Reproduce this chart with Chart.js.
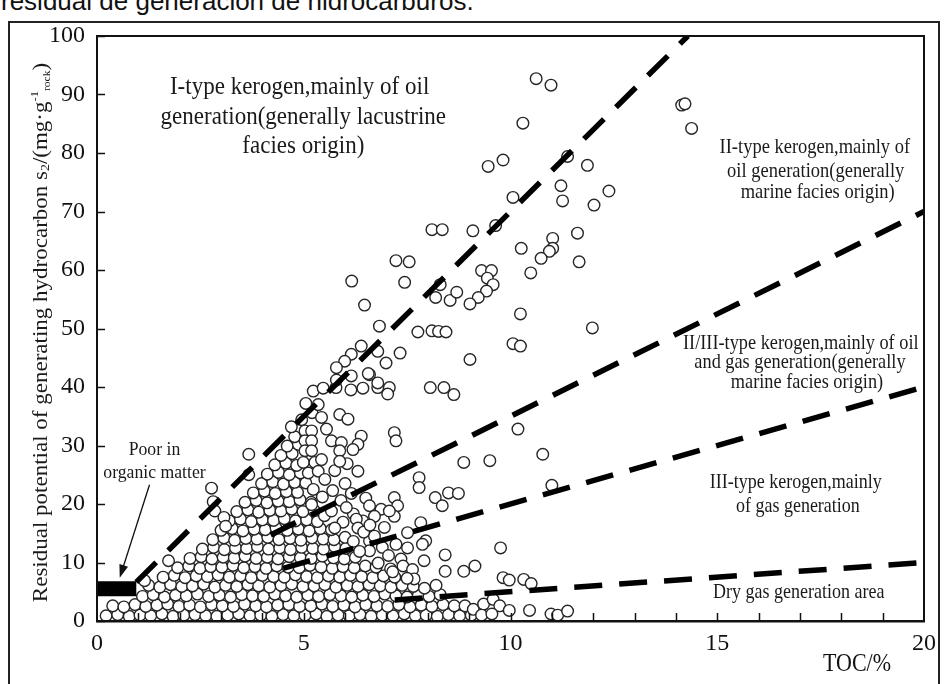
<!DOCTYPE html>
<html>
<head>
<meta charset="utf-8">
<title>S2 vs TOC kerogen type diagram</title>
<script src="https://cdn.jsdelivr.net/npm/chart.js@4.4.1/dist/chart.umd.min.js"></script>
<style>
  html, body { margin: 0; padding: 0; background: #fff; }
  body { width: 944px; height: 684px; position: relative; overflow: hidden; }
  #caption { position: absolute; left: 1px; top: -12px; font: 26px "Liberation Sans", Arial, sans-serif; line-height: 26px; color: #111; white-space: nowrap; }
  #frame { position: absolute; left: 8px; top: 21px; width: 928px; height: 700px; border: 2px solid #222; }
  #chart { position: absolute; left: 0; top: 0; }
</style>
</head>
<body>
<div id="caption">residual de generación de hidrocarburos.</div>
<div id="frame"></div>
<canvas id="chart" width="944" height="684"></canvas>
<script>
/* ─── Data: TOC (%) vs S2 (mg/g rock) ─── */
const xTickLabels = [0, 5, 10, 15, 20];
const xMinorTicks = [1, 2, 3, 4, 5, 6, 7, 8, 9, 10, 11, 12, 13, 14, 15, 16, 17, 18, 19];
const yTicks = [0, 10, 20, 30, 40, 50, 60, 70, 80, 90, 100];

// dense packed samples, lower part of the cluster
const clusterLow = [
  [0.22,0.9],[0.5,1.1],[0.78,0.8],[1.04,1.0],[1.3,0.9],[1.57,1.2],[1.84,0.8],[2.1,1.0],[2.37,1.1],[2.63,0.9],[2.9,0.8],[3.16,1.0],[3.43,1.2],[3.7,0.9],[3.96,1.0],[4.23,0.8],[4.5,1.1],[4.76,0.9],[5.03,1.0],[5.3,1.2],[5.56,0.8],[5.83,1.0],[6.1,0.9],[6.36,1.1],[6.63,0.8],[6.9,1.0],[7.16,0.9],[7.43,1.2],[7.7,0.9],[7.96,1.0],[8.23,0.8],[8.5,1.1],[8.77,0.9],[9.05,1.0],
  [0.38,2.6],[0.65,2.4],[0.92,2.8],[1.18,2.5],[1.45,2.7],[1.71,2.9],[1.98,2.5],[2.24,2.7],[2.5,2.4],[2.77,2.8],[3.03,2.6],[3.3,2.5],[3.57,2.9],[3.84,2.6],[4.1,2.4],[4.37,2.7],[4.64,2.8],[4.9,2.5],[5.17,2.6],[5.44,2.9],[5.7,2.5],[5.97,2.7],[6.24,2.4],[6.5,2.8],[6.77,2.6],[7.03,2.5],[7.3,2.8],[7.57,2.4],[7.84,2.7],[8.1,2.5],[8.37,2.8],[8.64,2.6],
  [1.1,4.2],[1.36,4.5],[1.63,4.1],[1.9,4.4],[2.16,4.3],[2.43,4.6],[2.7,4.2],[2.96,4.4],[3.23,4.1],[3.5,4.5],[3.76,4.3],[4.03,4.2],[4.3,4.6],[4.56,4.3],[4.83,4.1],[5.1,4.4],[5.36,4.2],[5.63,4.5],[5.9,4.3],[6.16,4.1],[6.43,4.4],[6.7,4.2],[6.96,4.6],[7.23,4.3],[7.5,4.1],[7.77,4.4],[8.03,4.2],[8.3,4.5],
  [1.25,6.1],[1.52,5.8],[1.78,6.2],[2.05,5.9],[2.31,6.0],[2.58,6.3],[2.85,5.8],[3.11,6.1],[3.38,5.9],[3.65,6.2],[3.91,6.0],[4.18,5.8],[4.45,6.1],[4.71,6.3],[4.98,5.9],[5.25,6.0],[5.51,6.2],[5.78,5.8],[6.05,6.1],[6.31,5.9],[6.58,6.2],[6.85,6.0],[7.11,5.8],[7.38,6.1],[7.65,5.9],
  [1.6,7.5],[1.87,7.8],[2.13,7.4],[2.4,7.7],[2.67,7.6],[2.93,7.9],[3.2,7.5],[3.47,7.7],[3.73,7.4],[4.0,7.8],[4.27,7.6],[4.53,7.5],[4.8,7.9],[5.07,7.6],[5.33,7.4],[5.6,7.7],[5.87,7.5],[6.13,7.8],[6.4,7.6],[6.67,7.4],[6.93,7.7],[7.2,7.5]
];

// dense packed samples, upper part of the cluster
const clusterMid = [
  [1.95,9.1],[2.22,9.4],[2.49,9.0],[2.75,9.3],[3.02,9.2],[3.29,9.5],[3.55,9.1],[3.82,9.3],[4.09,9.0],[4.35,9.4],[4.62,9.2],[4.89,9.1],[5.15,9.5],[5.42,9.2],[5.69,9.0],[5.95,9.3],[6.22,9.1],[6.49,9.4],[6.75,9.2],
  [2.25,10.7],[2.52,11.0],[2.78,10.6],[3.05,10.9],[3.32,10.8],[3.58,11.1],[3.85,10.7],[4.12,10.9],[4.38,10.6],[4.65,11.0],[4.92,10.8],[5.18,10.7],[5.45,11.1],[5.72,10.8],[5.98,10.6],[6.25,10.9],
  [2.55,12.3],[2.82,12.6],[3.08,12.2],[3.35,12.5],[3.62,12.4],[3.88,12.7],[4.15,12.3],[4.42,12.5],[4.68,12.2],[4.95,12.6],[5.22,12.4],[5.48,12.3],[5.75,12.7],[6.02,12.4],
  [2.8,13.9],[3.07,14.2],[3.33,13.8],[3.6,14.1],[3.87,14.0],[4.13,14.3],[4.4,13.9],[4.67,14.1],[4.93,13.8],[5.2,14.2],[5.47,14.0],[5.73,13.9],[6.0,14.3],
  [3.0,15.5],[3.27,15.8],[3.53,15.4],[3.8,15.7],[4.07,15.6],[4.33,15.9],[4.6,15.5],[4.87,15.7],[5.13,15.4],[5.4,15.8],[5.67,15.6],
  [3.2,17.1],[3.47,17.4],[3.73,17.0],[4.0,17.3],[4.27,17.2],[4.53,17.5],[4.8,17.1],[5.07,17.3],[5.33,17.0],
  [3.38,18.7],[3.65,19.0],[3.91,18.6],[4.18,18.9],[4.45,18.8],[4.71,19.1],[4.98,18.7],[5.25,18.9],
  [3.58,20.3],[3.85,20.6],[4.11,20.2],[4.38,20.5],[4.65,20.4],[4.91,20.7],[5.18,20.3],
  [3.78,21.9],[4.05,22.2],[4.31,21.8],[4.58,22.1],[4.85,22.0],
  [3.98,23.5],[4.25,23.8],[4.51,23.4],[4.78,23.7],[5.05,23.6],
  [4.12,25.1],[4.39,25.4],[4.65,25.0],[4.92,25.3],
  [4.3,26.7],[4.57,27.0],[4.83,26.6],
  [4.45,28.3],[4.72,28.6],[4.6,29.9],[4.87,30.2],[4.78,31.5]
];

// looser samples around the cluster edges
const scatterMid = [
  [1.15,6.9],[1.73,10.3],[2.77,22.7],[2.81,20.4],[2.85,18.8],[3.07,17.7],[3.11,16.2],[3.67,28.5],[3.67,25.0],
  [4.7,33.2],[4.95,34.4],[5.2,35.6],[5.05,37.2],[5.35,37.0],
  [5.43,34.8],[5.87,35.3],[6.07,34.5],[5.55,32.8],[5.67,30.8],[5.91,30.5],[5.87,29.1],[5.03,32.5],[5.19,32.5],[5.03,30.8],[5.19,30.8],[5.03,29.1],[5.19,29.1],[4.99,27.1],[5.27,27.1],[5.43,27.6],[5.11,25.3],[5.35,25.6],[5.51,24.2],[5.23,22.5],[5.19,19.9],
  [5.95,16.9],[6.2,18.3],[5.9,20.6],[6.15,21.8],[5.7,22.3],[6.5,21.0],[6.0,23.5],[5.75,25.7],[6.05,26.9],[5.45,21.2],[5.5,18.0],
  [6.39,31.6],[6.31,30.2],[6.19,29.3],[7.19,32.2],[7.23,30.8],[6.31,25.6],[5.87,27.3],
  [7.79,24.5],[7.79,22.8],[8.87,27.1],[9.5,27.4],[8.18,21.1],[8.5,21.9],[8.74,21.8],[8.35,19.7],[7.19,21.1],[7.27,19.7],[7.19,17.9],
  [6.59,19.7],[6.87,19.1],[7.07,18.8],[6.71,17.9],[6.43,17.1],[6.27,17.4],[6.03,19.4],[5.75,15.9],[6.31,15.9],[5.67,18.8],
  [7.51,15.1],[7.83,16.8],[7.95,13.7],[7.87,13.1],[7.51,12.5],[7.23,13.1],[6.59,13.7],[6.59,12.0],[6.71,14.5],
  [6.2,13.6],[6.35,11.9],[6.45,15.2],[6.9,12.6],[7.05,11.2],[6.8,9.9],[7.1,8.9],[7.35,10.6],[6.6,16.4],[6.95,16.0],[7.4,9.4],
  [7.91,10.3],[7.63,8.8],[7.15,8.4],[7.67,7.2],[7.92,5.6],[8.2,6.1],[7.5,7.3],
  [8.42,11.3],[8.42,8.5],[8.87,8.5],[9.14,9.4],[9.76,12.5],[9.82,7.4],[9.97,7.0],[10.32,7.1],[10.5,6.4],
  [8.9,2.6],[9.1,2.0],[9.35,2.9],[9.58,3.7],[9.74,2.6],[9.3,1.0],[9.55,1.2],
  [9.97,1.8],[10.46,1.8],[10.98,1.2],[11.14,1.0],[11.38,1.7],
  [10.18,32.8],[10.78,28.5],[11.0,23.2]
];

// sparse high-S2 samples
const scatterHigh = [
  [10.62,92.7],[10.98,91.6],[14.14,88.2],[14.22,88.4],[14.38,84.2],[10.3,85.1],[9.46,77.7],[9.82,78.8],[11.38,79.4],[11.86,77.9],
  [10.06,72.4],[11.22,74.4],[11.26,71.8],[12.38,73.5],[12.02,71.1],[8.1,66.9],[8.35,66.9],[9.09,66.7],[9.64,67.6],[10.26,63.7],
  [11.02,65.4],[11.02,63.7],[10.94,63.2],[10.74,62.0],[11.62,66.3],[11.66,61.4],[10.49,59.5],[7.23,61.6],[7.55,61.4],[7.44,57.9],
  [6.16,58.1],[6.47,54.0],[9.3,59.9],[9.54,59.9],[9.44,58.6],[9.58,57.5],[9.42,56.4],[9.22,55.3],[9.02,54.2],[8.3,57.5],
  [8.19,55.3],[8.54,54.8],[8.7,56.2],[10.24,52.5],[11.98,50.1],[10.06,47.4],[10.24,47.0],[9.02,44.7],[7.76,49.4],[8.1,49.6],
  [8.26,49.5],[8.44,49.4],[7.33,45.8],[6.83,50.4],[6.39,47.0],[6.79,46.1],[6.99,44.1],[6.59,42.1],[6.15,45.6],[5.99,44.4],
  [5.79,43.3],[8.06,39.9],[8.39,39.9],[8.63,38.7],[5.23,39.3],[5.47,39.8],[5.78,39.9],[6.14,39.5],[6.43,39.8],[6.79,39.9],
  [7.07,39.9],[5.79,41.2],[6.56,42.3],[6.15,41.9],[6.79,40.7],[7.03,38.8]
];

// kerogen boundaries (dashed) and the "poor in organic matter" bar
const lineI   = [[0.95, 6.65], [14.29, 100]];
const lineII  = [[4.2, 14.7], [20, 70]];
const lineIII = [[4.5, 9.0], [20, 40]];
const lineIV  = [[7.2, 3.6], [20, 10]];
const poorBar = [[0, 5.5], [0.95, 5.5]];

/* ─── Annotation text (placed in data units) ─── */
const SERIF = '"Liberation Serif", "Times New Roman", serif';
const notes = [
  { t: "I-type kerogen,mainly of oil",       x: 4.90,  y: 91.3, s: 23 },
  { t: "generation(generally lacustrine",    x: 4.99,  y: 86.2, s: 23 },
  { t: "facies origin)",                      x: 4.99,  y: 81.2, s: 23 },
  { t: "II-type kerogen,mainly of",          x: 17.36, y: 80.9, s: 18.5 },
  { t: "oil generation(generally",           x: 17.38, y: 76.8, s: 18.5 },
  { t: "marine facies origin)",              x: 17.43, y: 73.3, s: 18.5 },
  { t: "II/III-type kerogen,mainly of oil",  x: 17.02, y: 47.5, s: 18.3 },
  { t: "and gas generation(generally",       x: 17.0,  y: 44.1, s: 18.3 },
  { t: "marine facies origin)",              x: 17.17, y: 40.7, s: 18.3 },
  { t: "III-type kerogen,mainly",            x: 16.9,  y: 23.6, s: 18 },
  { t: "of gas generation",                  x: 16.95, y: 19.5, s: 18 },
  { t: "Dry gas generation area",            x: 16.97, y: 4.8,  s: 18 },
  { t: "Poor in",                             x: 1.39,  y: 29.2, s: 17.7 },
  { t: "organic matter",                      x: 1.39,  y: 25.3, s: 17.7 }
];

const toXY = arr => arr.map(([x, y]) => ({ x, y }));

function stretchText(ctx, str, px, py, size, stretch) {
  ctx.save();
  ctx.translate(px, py);
  ctx.scale(1, stretch);
  ctx.font = size + "px " + SERIF;
  ctx.textAlign = "center";
  ctx.textBaseline = "middle";
  ctx.fillText(str, 0, 0);
  ctx.restore();
}

/* ─── Frame, inward ticks, labels, arrow ─── */
const decorate = {
  id: "decorate",
  afterDraw(chart) {
    const { ctx, chartArea: a, scales: { x, y } } = chart;
    ctx.save();

    // plot box
    ctx.strokeStyle = "#111";
    ctx.lineWidth = 2;
    ctx.strokeRect(a.left, a.top, a.right - a.left, a.bottom - a.top);

    // inward tick marks
    ctx.lineWidth = 1.5;
    ctx.beginPath();
    xMinorTicks.forEach(v => {
      const px = Math.round(x.getPixelForValue(v)) + 0.5;
      ctx.moveTo(px, a.bottom);
      ctx.lineTo(px, a.bottom - 8);
    });
    yTicks.forEach(v => {
      const py = Math.round(y.getPixelForValue(v)) + 0.5;
      ctx.moveTo(a.left, py);
      ctx.lineTo(a.left + 8, py);
    });
    ctx.stroke();

    // zone notes
    ctx.fillStyle = "#1a1a1a";
    notes.forEach(n => stretchText(ctx, n.t, x.getPixelForValue(n.x), y.getPixelForValue(n.y), n.s, 1.12));

    // arrow to the poor-organic-matter bar
    const x0 = x.getPixelForValue(1.27), y0 = y.getPixelForValue(23.3);
    const x1 = x.getPixelForValue(0.55), y1 = y.getPixelForValue(7.4);
    const ang = Math.atan2(y1 - y0, x1 - x0);
    ctx.strokeStyle = "#111";
    ctx.lineWidth = 1.3;
    ctx.beginPath();
    ctx.moveTo(x0, y0);
    ctx.lineTo(x1 - 10 * Math.cos(ang), y1 - 10 * Math.sin(ang));
    ctx.stroke();
    ctx.beginPath();
    ctx.moveTo(x1, y1);
    ctx.lineTo(x1 - 13 * Math.cos(ang) + 4.5 * Math.sin(ang), y1 - 13 * Math.sin(ang) - 4.5 * Math.cos(ang));
    ctx.lineTo(x1 - 13 * Math.cos(ang) - 4.5 * Math.sin(ang), y1 - 13 * Math.sin(ang) + 4.5 * Math.cos(ang));
    ctx.closePath();
    ctx.fillStyle = "#111";
    ctx.fill();

    // x title
    stretchText(ctx, "TOC/%", a.right - 67, a.bottom + 43, 22, 1.15);

    // y title with sub / superscripts
    const parts = [
      { t: "Residual potential of generating hydrocarbon s", s: 20, d: 0 },
      { t: "2", s: 12, d: 4 },
      { t: "/(mg·g", s: 20, d: 0 },
      { t: "-1", s: 11, d: -7 },
      { t: "rock", s: 10, d: 5 },
      { t: ")", s: 20, d: 0 }
    ];
    let total = 0;
    parts.forEach(p => { ctx.font = p.s + "px " + SERIF; p.w = ctx.measureText(p.t).width; total += p.w; });
    ctx.save();
    ctx.translate(a.left - 55, (a.top + a.bottom) / 2 + 4);
    ctx.rotate(-Math.PI / 2);
    ctx.scale(1.15, 1);
    ctx.fillStyle = "#1a1a1a";
    ctx.textBaseline = "middle";
    ctx.textAlign = "left";
    let cx = -total / 2;
    parts.forEach(p => {
      ctx.font = p.s + "px " + SERIF;
      ctx.fillText(p.t, cx, p.d);
      cx += p.w;
    });
    ctx.restore();

    ctx.restore();
  }
};

/* ─── Chart ─── */
const dashed = (data) => ({
  type: "line",
  data: toXY(data),
  borderColor: "#000",
  borderWidth: 5.5,
  borderDash: [28, 17],
  borderCapStyle: "butt",
  pointRadius: 0,
  fill: false,
  order: 0
});

new Chart(document.getElementById("chart"), {
  type: "scatter",
  data: {
    datasets: [
      dashed(lineI),
      dashed(lineII),
      dashed(lineIII),
      dashed(lineIV),
      {
        type: "line",
        data: toXY(poorBar),
        borderColor: "#000",
        borderWidth: 15,
        borderCapStyle: "butt",
        pointRadius: 0,
        order: 0
      },
      {
        label: "samples",
        data: toXY([...clusterLow, ...clusterMid, ...scatterMid, ...scatterHigh]),
        backgroundColor: "#fff",
        borderColor: "#262626",
        borderWidth: 1.4,
        pointRadius: 5.8,
        order: 1
      }
    ]
  },
  options: {
    responsive: false,
    animation: false,
    devicePixelRatio: 1,
    layout: { padding: { top: 36, right: 14, bottom: 0, left: 0 } },
    plugins: { legend: { display: false }, tooltip: { enabled: false } },
    scales: {
      x: {
        type: "linear", min: 0, max: 20,
        afterFit(s) { s.height = 63; },
        grid: { display: false, drawTicks: false },
        border: { display: true, color: "#111", width: 2.5 },
        ticks: {
          stepSize: 1, autoSkip: false, maxRotation: 0, padding: 8,
          color: "#111", font: { family: SERIF, size: 24 },
          callback: v => (xTickLabels.includes(v) ? String(v) : "")
        }
      },
      y: {
        type: "linear", min: 0, max: 100,
        afterFit(s) { s.width = 97; },
        grid: { display: false, drawTicks: false },
        border: { display: true, color: "#111", width: 2 },
        ticks: {
          stepSize: 10, padding: 12,
          color: "#111", font: { family: SERIF, size: 24 }
        }
      }
    }
  },
  plugins: [decorate]
});
</script>
</body>
</html>
